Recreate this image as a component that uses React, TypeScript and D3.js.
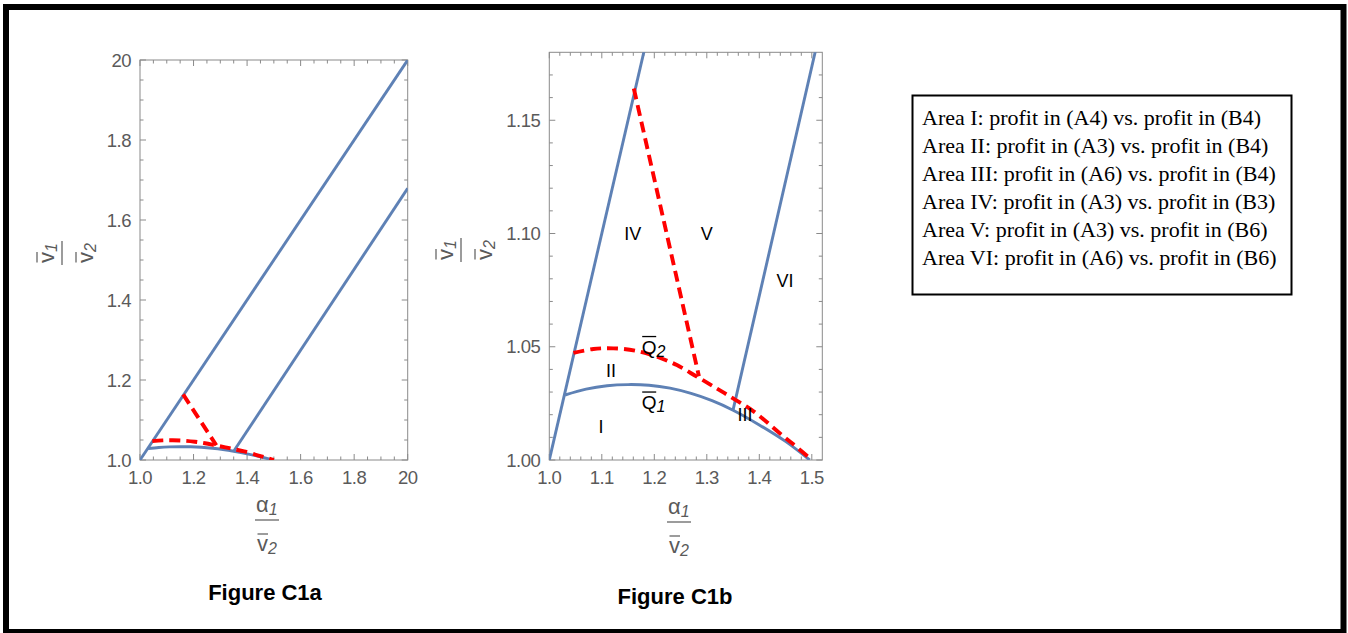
import React from "react";
import * as d3 from "d3";

// ---------- data ----------
// Q1 boundary (solid blue curve)
const q1X = [1.03, 1.07, 1.11, 1.15, 1.19, 1.23, 1.27, 1.31, 1.35, 1.4, 1.45, 1.496];
const q1Y = [1.0287, 1.0313, 1.0328, 1.0333, 1.033, 1.0317, 1.0294, 1.0262, 1.022, 1.0155, 1.0082, 1.0];
// Q2 boundary (red dashed curve)
const q2X = [1.046, 1.084, 1.122, 1.166, 1.205, 1.243, 1.281, 1.319, 1.35, 1.389, 1.439, 1.465, 1.5];
const q2Y = [1.0473, 1.049, 1.0493, 1.0482, 1.0456, 1.0419, 1.0368, 1.0316, 1.0272, 1.0215, 1.0118, 1.0069, 1.0];
// straight boundaries
const lineIVX = [1.0, 2.0];
const lineIVY = [1.0, 2.0];
const lineVIX = [1.35, 2.0];
const lineVIY = [1.022, 1.679];
const dividerX = [1.161, 1.285];
const dividerY = [1.164, 1.037];

// axis ticks
const leftMajor = [1.0, 1.2, 1.4, 1.6, 1.8, 2.0];
const leftTickLabels = ["1.0", "1.2", "1.4", "1.6", "1.8", "20"];
const rightXMajor = [1.0, 1.1, 1.2, 1.3, 1.4, 1.5];
const rightXLabels = ["1.0", "1.1", "1.2", "1.3", "1.4", "1.5"];
const rightYMajor = [1.0, 1.05, 1.1, 1.15];
const rightYLabels = ["1.00", "1.05", "1.10", "1.15"];

// region labels (right chart)
const regionNames = ["IV", "V", "VI", "II", "I", "III"];
const regionX = [1.159, 1.3, 1.4489, 1.1175, 1.0985, 1.3728];
const regionY = [1.1001, 1.1001, 1.0794, 1.0397, 1.015, 1.0199];
const curveNames = ["2", "1"];
const curveLabelX = [1.176, 1.176];
const curveLabelY = [1.047, 1.0225];

const legendRows = [
  "Area I: profit in (A4) vs. profit in (B4)",
  "Area II: profit in (A3) vs. profit in (B4)",
  "Area III: profit in (A6) vs. profit in (B4)",
  "Area IV: profit in (A3) vs. profit in (B3)",
  "Area V: profit in (A3) vs. profit in (B6)",
  "Area VI: profit in (A6) vs. profit in (B6)",
];

const BLUE = "#5E81B5";
const RED = "#FF0000";
const GRAY = "#5a5a5a";
const FRAME = "#8a8a8a";
const SANS = "'Liberation Sans', Arial, sans-serif";

const zip = (xs: number[], ys: number[]) => xs.map((x, i) => [x, ys[i]] as [number, number]);

type PlotProps = {
  id: string;
  x: d3.ScaleLinear<number, number>;
  y: d3.ScaleLinear<number, number>;
  xMajor: number[];
  xLabels: string[];
  xMinor: number[];
  yMajor: number[];
  yLabels: string[];
  yMinor: number[];
};

function Frame({ id, x, y, xMajor, xLabels, xMinor, yMajor, yLabels, yMinor }: PlotProps) {
  const [x0, x1] = x.range();
  const [y0, y1] = y.range(); // y0 bottom, y1 top
  const MAJ = 6;
  const MIN = 3.5;
  return (
    <g>
      <rect x={x0} y={y1} width={x1 - x0} height={y0 - y1} fill="none" stroke={FRAME} strokeWidth={1} />
      {xMajor.map((v) => (
        <g key={"xm" + v}>
          <line x1={x(v)} x2={x(v)} y1={y0} y2={y0 - MAJ} stroke={FRAME} />
          <line x1={x(v)} x2={x(v)} y1={y1} y2={y1 + MAJ} stroke={FRAME} />
        </g>
      ))}
      {xMinor.map((v) => (
        <g key={"xn" + v}>
          <line x1={x(v)} x2={x(v)} y1={y0} y2={y0 - MIN} stroke={FRAME} />
          <line x1={x(v)} x2={x(v)} y1={y1} y2={y1 + MIN} stroke={FRAME} />
        </g>
      ))}
      {yMajor.map((v) => (
        <g key={"ym" + v}>
          <line x1={x0} x2={x0 + MAJ} y1={y(v)} y2={y(v)} stroke={FRAME} />
          <line x1={x1} x2={x1 - MAJ} y1={y(v)} y2={y(v)} stroke={FRAME} />
        </g>
      ))}
      {yMinor.map((v) => (
        <g key={"yn" + v}>
          <line x1={x0} x2={x0 + MIN} y1={y(v)} y2={y(v)} stroke={FRAME} />
          <line x1={x1} x2={x1 - MIN} y1={y(v)} y2={y(v)} stroke={FRAME} />
        </g>
      ))}
      {xMajor.map((v, i) => (
        <text key={"xl" + v} x={x(v)} y={y0 + 24} textAnchor="middle" fontSize={18.5} fill={GRAY} fontFamily={SANS} letterSpacing={-0.5}>
          {xLabels[i]}
        </text>
      ))}
      {yMajor.map((v, i) => (
        <text key={"yl" + v} x={x0 - 9} y={y(v) + 6.5} textAnchor="end" fontSize={18.5} fill={GRAY} fontFamily={SANS} letterSpacing={-0.5}>
          {yLabels[i]}
        </text>
      ))}
      <defs>
        <clipPath id={id}>
          <rect x={x0} y={y1} width={x1 - x0} height={y0 - y1} />
        </clipPath>
      </defs>
    </g>
  );
}

// v-bar with subscript
function VBar({ x, y, sub }: { x: number; y: number; sub: string }) {
  // x = left of "v", y = baseline
  return (
    <g>
      <line x1={x + 0.5} x2={x + 11} y1={y - 17} y2={y - 17} stroke={GRAY} strokeWidth={1.2} />
      <text x={x} y={y} fontSize={22} fill={GRAY} fontFamily={SANS}>
        v
        <tspan fontSize={16} fontStyle="italic" dy={3}>
          {sub}
        </tspan>
      </text>
    </g>
  );
}

// fraction centered at (0,0) with bar at y=0
function Frac({ top }: { top: "alpha" | "v" }) {
  return (
    <g>
      {top === "alpha" ? (
        <text x={-11} y={-8} fontSize={22} fill={GRAY} fontFamily={SANS}>
          α
          <tspan fontSize={16} fontStyle="italic" dy={3}>
            1
          </tspan>
        </text>
      ) : (
        <VBar x={-10} y={-8} sub="1" />
      )}
      <line x1={-12} x2={12} y1={0} y2={0} stroke={GRAY} strokeWidth={1.2} />
      <VBar x={-10} y={31} sub="2" />
    </g>
  );
}

function App() {
  const xL = d3.scaleLinear().domain([1, 2]).range([140, 407.7]);
  const yL = d3.scaleLinear().domain([1, 2]).range([460, 60]);
  const xR = d3.scaleLinear().domain([1, 1.52]).range([549.3, 822.3]);
  const yR = d3.scaleLinear().domain([1, 1.18]).range([460, 52.3]);

  const leftMinor = d3.range(1, 2.0001, 0.05).filter((v) => Math.abs(v * 5 - Math.round(v * 5)) > 1e-6);
  const rxMinor = d3.range(1, 1.52, 0.02).filter((v) => Math.abs(v * 10 - Math.round(v * 10)) > 1e-6);
  const ryMinor = d3.range(1, 1.18, 0.01).filter((v) => Math.abs(v * 20 - Math.round(v * 20)) > 1e-6);

  const q1 = zip(q1X, q1Y);
  const q2 = zip(q2X, q2Y);
  const lIV = zip(lineIVX, lineIVY);
  const lVI = zip(lineVIX, lineVIY);
  const div = zip(dividerX, dividerY);

  const marks = (x: d3.ScaleLinear<number, number>, y: d3.ScaleLinear<number, number>, clip: string) => {
    const straight = d3.line<[number, number]>().x((d) => x(d[0])).y((d) => y(d[1]));
    const smooth = d3
      .line<[number, number]>()
      .x((d) => x(d[0]))
      .y((d) => y(d[1]))
      .curve(d3.curveCatmullRom);
    return (
      <g clipPath={`url(#${clip})`} fill="none">
        <path d={straight(lIV) || ""} stroke={BLUE} strokeWidth={2.9} />
        <path d={straight(lVI) || ""} stroke={BLUE} strokeWidth={2.9} />
        <path d={smooth(q1) || ""} stroke={BLUE} strokeWidth={2.9} />
        <path d={smooth(q2) || ""} stroke={RED} strokeWidth={3.9} strokeDasharray="11,6" />
        <path d={straight(div) || ""} stroke={RED} strokeWidth={3.9} strokeDasharray="11,6" />
      </g>
    );
  };

  return (
    <svg
      width={1348}
      height={633}
      style={{ position: "absolute", left: 0, top: 0, display: "block", background: "#fff" }}
    >
      <rect x={0} y={0} width={1348} height={633} fill="#fff" />
      <rect x={6} y={7} width={1337.5} height={625} fill="none" stroke="#000" strokeWidth={6} />

      {/* Left chart */}
      <Frame
        id="clipL"
        x={xL}
        y={yL}
        xMajor={leftMajor}
        xLabels={leftTickLabels}
        xMinor={leftMinor}
        yMajor={leftMajor}
        yLabels={leftTickLabels}
        yMinor={leftMinor}
      />
      {marks(xL, yL, "clipL")}
      <g transform="translate(267,520)">
        <Frac top="alpha" />
      </g>
      <g transform="translate(62,253) rotate(-90)">
        <Frac top="v" />
      </g>
      <text x={265} y={600} textAnchor="middle" fontSize={22} fontWeight="bold" fontFamily={SANS} fill="#000">
        Figure C1a
      </text>

      {/* Right chart */}
      <Frame
        id="clipR"
        x={xR}
        y={yR}
        xMajor={rightXMajor}
        xLabels={rightXLabels}
        xMinor={rxMinor}
        yMajor={rightYMajor}
        yLabels={rightYLabels}
        yMinor={ryMinor}
      />
      {marks(xR, yR, "clipR")}
      {regionNames.map((n, i) => (
        <text
          key={n}
          x={xR(regionX[i])}
          y={yR(regionY[i]) + 6.5}
          textAnchor="middle"
          fontSize={18}
          fontFamily={SANS}
          fill="#000"
        >
          {n}
        </text>
      ))}
      {curveNames.map((n, i) => {
        const px = xR(curveLabelX[i]);
        const py = yR(curveLabelY[i]);
        return (
          <g key={"q" + n}>
            <line x1={px + 0.5} x2={px + 14.5} y1={py - 17} y2={py - 17} stroke="#000" strokeWidth={1.3} />
            <text x={px} y={py} fontSize={19} fontFamily={SANS} fill="#000">
              Q
              <tspan fontSize={16} fontStyle="italic" dy={3}>
                {n}
              </tspan>
            </text>
          </g>
        );
      })}
      <g transform="translate(679,522)">
        <Frac top="alpha" />
      </g>
      <g transform="translate(461,250) rotate(-90)">
        <Frac top="v" />
      </g>
      <text x={675} y={604} textAnchor="middle" fontSize={22} fontWeight="bold" fontFamily={SANS} fill="#000">
        Figure C1b
      </text>

      {/* Legend */}
      <rect x={912.5} y={95.5} width={379} height={199} fill="#fff" stroke="#000" strokeWidth={2} />
      {legendRows.map((r, i) => (
        <text
          key={r}
          x={922}
          y={125 + i * 28}
          fontSize={22}
          fontFamily="'Liberation Serif', 'Times New Roman', serif"
          fill="#000"
        >
          {r}
        </text>
      ))}
    </svg>
  );
}

export default App;
